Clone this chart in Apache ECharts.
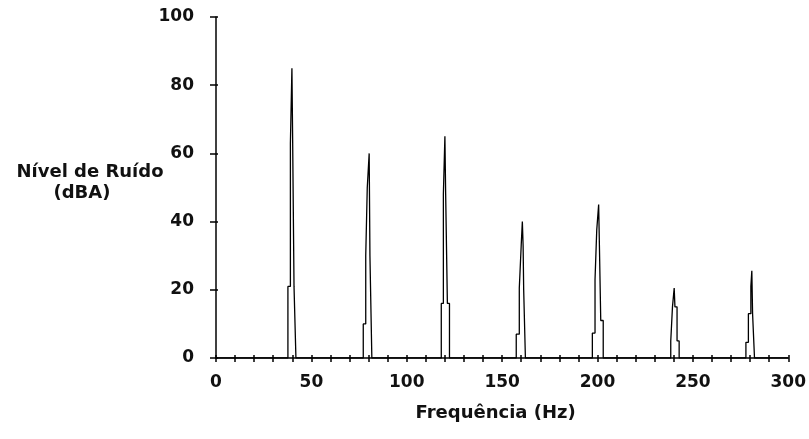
<!DOCTYPE html>
<html>
<head>
<meta charset="utf-8">
<script src="https://cdn.jsdelivr.net/npm/echarts@6/dist/echarts.min.js"></script>
<style>
html,body{margin:0;padding:0;background:#fff;}
#chart{width:809px;height:439px;}
</style>
</head>
<body>
<div id="chart"></div>
<script>
// Frequency (Hz) / noise level (dBA) points, one array per harmonic peak
var spike40  = [[37.7,0],[37.7,21],[39.0,21],[39.0,63],[39.8,63],[39.8,85],[40.2,85],[40.2,63],[40.9,63],[40.9,21],[41.9,21],[41.9,0]];
var spike80  = [[77.2,0],[77.2,10],[78.5,10],[78.5,30],[79.3,30],[79.3,50],[80.3,50],[80.3,60],[80.7,60],[80.7,30],[81.7,30],[81.7,0]];
var spike120 = [[118.1,0],[118.1,16],[119.2,16],[119.2,48],[120.0,48],[120.0,65],[120.4,65],[120.4,48],[121.3,48],[121.3,16],[122.4,16],[122.4,0]];
var spike160 = [[157.4,0],[157.4,7],[159.0,7],[159.0,20.5],[160.0,20.5],[160.0,33],[160.6,33],[160.6,40],[161.0,40],[161.0,33],[161.3,33],[161.3,20],[162.2,20],[162.2,0]];
var spike200 = [[197.3,0],[197.3,7.3],[198.7,7.3],[198.7,23],[199.6,23],[199.6,37.5],[200.6,37.5],[200.6,45],[201.0,45],[201.0,33],[201.7,33],[201.7,11],[203.0,11],[203.0,0]];
var spike240 = [[238.4,0],[238.4,5],[239.3,5],[239.3,15],[240.2,15],[240.2,20.5],[240.6,20.5],[240.6,15],[241.7,15],[241.7,5],[242.8,5],[242.8,0]];
var spike280 = [[277.8,0],[277.8,4.6],[279.1,4.6],[279.1,13],[280.4,13],[280.4,21],[280.9,21],[280.9,25.6],[281.3,25.6],[281.3,13],[282.3,13],[282.3,0]];
var baselineStart = [[0,0]];
var baselineEnd = [[300,0]];

var xLabelStep = 50;
var xTitle = 'Frequência (Hz)';
var yTitleLine1 = 'Nível de Ruído';
var yTitleLine2 = '(dBA)';

var seriesData = [].concat(baselineStart, spike40, spike80, spike120, spike160, spike200, spike240, spike280, baselineEnd);

var FONT = 'DejaVu Sans';
var labelStyle = {color:'#111', fontFamily:FONT, fontWeight:'bold', fontSize:17};

var chart = echarts.init(document.getElementById('chart'), null, {renderer:'canvas'});
chart.setOption({
  animation:false,
  backgroundColor:'#fff',
  grid:{left:216, right:18, top:17, bottom:81, containLabel:false},
  xAxis:[{
    type:'value', min:0, max:300, interval:10, position:'bottom',
    axisLine:{show:true, lineStyle:{color:'#000', width:1.5}},
    axisTick:{show:true, inside:false, length:4, lineStyle:{color:'#000', width:1.5}},
    splitLine:{show:false},
    axisLabel:Object.assign({margin:16, formatter:function(v){return v % xLabelStep === 0 ? String(v) : '';}}, labelStyle),
    name:xTitle, nameLocation:'middle', nameGap:46,
    nameTextStyle:{color:'#111', fontFamily:FONT, fontWeight:'bold', fontSize:18, padding:[0,13,0,0]}
  },{
    type:'value', min:0, max:300, interval:10, position:'bottom',
    axisLine:{show:false},
    axisTick:{show:true, inside:true, length:3, lineStyle:{color:'#000', width:1.5}},
    splitLine:{show:false}, axisLabel:{show:false}
  }],
  yAxis:[{
    type:'value', min:0, max:100, interval:20, position:'left',
    axisLine:{show:true, lineStyle:{color:'#000', width:1.5}},
    axisTick:{show:true, inside:false, length:6, lineStyle:{color:'#000', width:1.5}},
    splitLine:{show:false},
    axisLabel:Object.assign({margin:22}, labelStyle)
  },{
    type:'value', min:0, max:100, interval:20, position:'left',
    axisLine:{show:false},
    axisTick:{show:true, inside:true, length:2, lineStyle:{color:'#000', width:1.5}},
    splitLine:{show:false}, axisLabel:{show:false}
  }],
  graphic:[{
    type:'text', x:90, y:172,
    style:{text:yTitleLine1, fill:'#111', font:'bold 18px "DejaVu Sans"', textAlign:'center', textVerticalAlign:'middle'}
  },{
    type:'text', x:82, y:193,
    style:{text:yTitleLine2, fill:'#111', font:'bold 18px "DejaVu Sans"', textAlign:'center', textVerticalAlign:'middle'}
  }],
  series:[{
    type:'line', xAxisIndex:0, yAxisIndex:0,
    data:seriesData, showSymbol:false, symbol:'none',
    lineStyle:{color:'#000', width:1.3}
  }]
});
</script>
</body>
</html>
